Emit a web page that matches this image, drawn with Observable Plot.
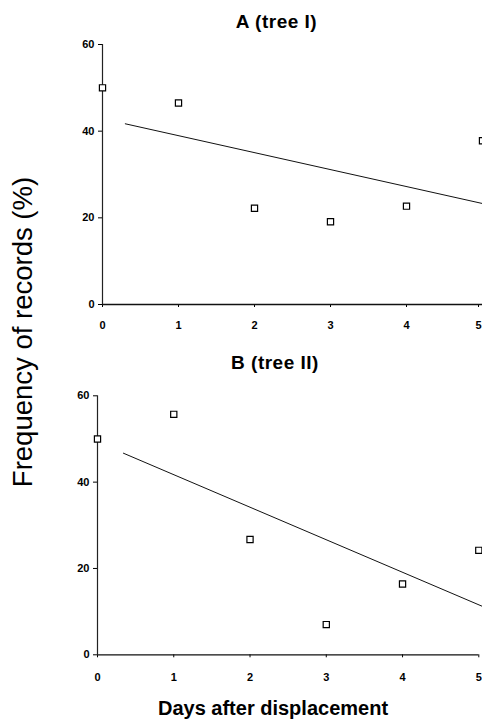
<!DOCTYPE html>
<html>
<head>
<meta charset="utf-8">
<script src="https://cdn.jsdelivr.net/npm/d3@7"></script>
<script src="https://cdn.jsdelivr.net/npm/@observablehq/plot@0.6"></script>
<style>
  html, body { margin: 0; padding: 0; background: #fff; }
  #fig { position: relative; width: 482px; height: 722px; overflow: hidden; font-family: "Liberation Sans", Arial, sans-serif; color: #000; }
  .lbl { position: absolute; white-space: nowrap; line-height: 1; }
  .panel { position: absolute; left: 0; }
  .panel svg { overflow: hidden; }
</style>
</head>
<body>
<div id="fig"></div>
<script>
// ---- Data ----
const days = [0, 1, 2, 3, 4, 5];
const treeI = [50, 46.5, 22.2, 19.1, 22.7, 37.8];
const treeII = [50, 55.7, 26.7, 7.0, 16.4, 24.2];
// fitted trend lines (end points)
const trendIDays = [0.3, 5];
const trendIValues = [41.7, 23.3];
const trendIIDays = [0.34, 5.05];
const trendIIValues = [46.7, 11.2];
const yTicks = [0, 20, 40, 60];
const xTicks = [0, 1, 2, 3, 4, 5];
const titles = ["A (tree I)", "B (tree II)"];
const yLabel = "Frequency of records (%)";
const xLabel = "Days after displacement";

const fig = document.getElementById("fig");

function panel(values, tDays, tVals, opts) {
  const pts = days.map((d, i) => ({day: d, value: values[i]}));
  const trend = tDays.map((d, i) => ({day: d, value: tVals[i]}));
  const inner = xTicks.slice(0, -1);
  const last = xTicks.slice(-1);
  return Plot.plot({
    width: 482,
    height: opts.height,
    marginTop: opts.mt,
    marginBottom: opts.mb,
    marginLeft: opts.ml,
    marginRight: opts.mr,
    style: {fontFamily: "'Liberation Sans', Arial, sans-serif", fontSize: "11px", fontWeight: "bold", background: "white", color: "#000", overflow: "hidden"},
    x: {domain: [0, 5]},
    y: {domain: [0, 60]},
    marks: [
      Plot.axisX({ticks: inner, tickSize: 3, tickPadding: opts.xtp, tickFormat: d3.format("d"), label: null, fontWeight: "bold", fontSize: 11, strokeWidth: 1}),
      Plot.axisX({ticks: last, tickSize: 3, tickPadding: opts.xtp, tickFormat: d3.format("d"), label: null, fontWeight: "bold", fontSize: 11, strokeWidth: 1, dx: opts.lastDx}),
      Plot.axisY({ticks: yTicks, tickSize: 4, tickPadding: 4, tickFormat: d3.format("d"), label: null, fontWeight: "bold", fontSize: 11, strokeWidth: 1}),
      Plot.ruleY([0], {stroke: "#111", strokeWidth: 1.3}),
      Plot.ruleX([0], {stroke: "#222", strokeWidth: 1.2}),
      Plot.line(trend, {x: "day", y: "value", stroke: "#111", strokeWidth: 1}),
      Plot.dot(pts, {x: "day", y: "value", symbol: "square", r: 3.5, stroke: "#000", strokeWidth: 1.2, fill: "white"})
    ]
  });
}

const pA = panel(treeI, trendIDays, trendIValues, {height: 340, mt: 44, mb: 36, ml: 102, mr: 0, xtp: 14, lastDx: -4});
const pB = panel(treeII, trendIIDays, trendIIValues, {height: 382, mt: 55.3, mb: 67.7, ml: 97, mr: 3.7, xtp: 15, lastDx: 0});

const wA = document.createElement("div"); wA.className = "panel"; wA.style.top = "0px"; wA.appendChild(pA); fig.appendChild(wA);
const wB = document.createElement("div"); wB.className = "panel"; wB.style.top = "340px"; wB.appendChild(pB); fig.appendChild(wB);

function addLabel(text, {cx, top, size, weight, rotate, ls}) {
  const el = document.createElement("div");
  el.className = "lbl";
  el.textContent = text;
  el.style.fontSize = size + "px";
  el.style.fontWeight = weight;
  if (ls) el.style.letterSpacing = ls + "px";
  el.style.left = cx + "px";
  el.style.top = top + "px";
  el.style.transform = rotate ? "translate(-50%, -50%) rotate(-90deg)" : "translateX(-50%)";
  fig.appendChild(el);
}

addLabel(titles[0], {cx: 276.5, top: 12, size: 19, weight: "bold", ls: 0.5});
addLabel(titles[1], {cx: 275, top: 353, size: 19, weight: "bold", ls: 0.5});
addLabel(xLabel, {cx: 273, top: 698, size: 20, weight: "bold"});
addLabel(yLabel, {cx: 22.5, top: 332, size: 27.5, weight: "normal", rotate: true});
</script>
</body>
</html>
